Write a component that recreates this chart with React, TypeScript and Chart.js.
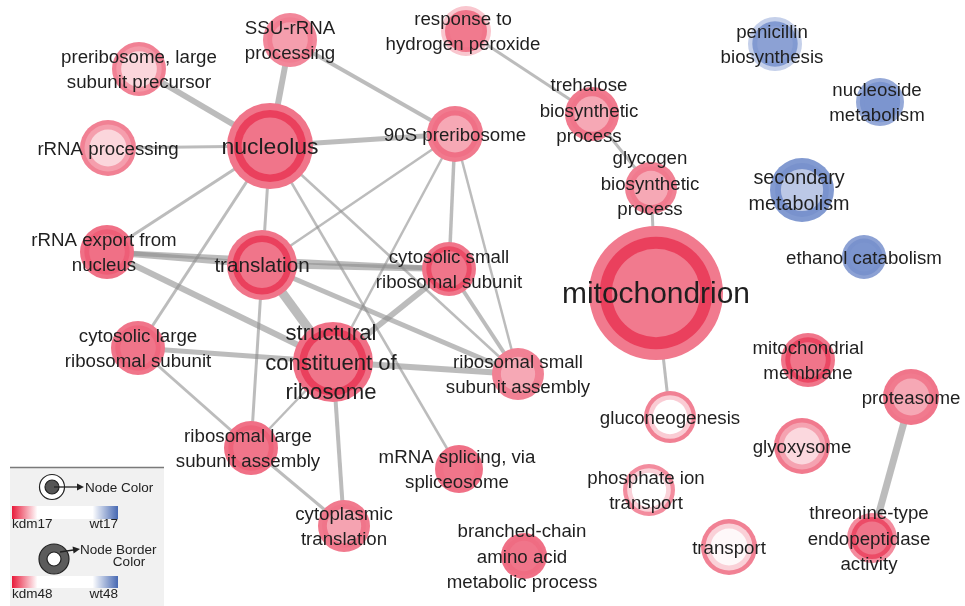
import React, { useEffect, useRef } from "react";
import { Chart, registerables } from "chart.js";

Chart.register(...registerables);

// ---- Nodes (enrichment map) ----
const nodeLabels = [
  "SSU-rRNA\nprocessing",
  "preribosome, large\nsubunit precursor",
  "rRNA processing",
  "nucleolus",
  "rRNA export from\nnucleus",
  "translation",
  "90S preribosome",
  "response to\nhydrogen peroxide",
  "trehalose\nbiosynthetic\nprocess",
  "glycogen\nbiosynthetic\nprocess",
  "mitochondrion",
  "cytosolic small\nribosomal subunit",
  "cytosolic large\nribosomal subunit",
  "structural\nconstituent of\nribosome",
  "ribosomal small\nsubunit assembly",
  "ribosomal large\nsubunit assembly",
  "mRNA splicing, via\nspliceosome",
  "cytoplasmic\ntranslation",
  "branched-chain\namino acid\nmetabolic process",
  "gluconeogenesis",
  "phosphate ion\ntransport",
  "transport",
  "mitochondrial\nmembrane",
  "glyoxysome",
  "proteasome",
  "threonine-type\nendopeptidase\nactivity",
  "penicillin\nbiosynthesis",
  "nucleoside\nmetabolism",
  "secondary\nmetabolism",
  "ethanol catabolism",
];

// layout coordinates of each node
const nodeX = [290, 139, 108, 270, 107, 262, 455, 466, 592, 651, 656, 449, 138, 333, 518, 251, 459, 344, 524, 670, 649, 729, 808, 802, 911, 872, 775, 880, 802, 864];
const nodeY = [40, 69, 148, 146, 252, 265, 134, 31, 114, 188, 293, 269, 348, 362, 374, 448, 469, 526, 556, 417, 490, 547, 360, 446, 397, 538, 44, 102, 190, 257];
// node size (gene-set size)
const nodeSize = [27, 27, 28, 43, 27, 35, 28, 25, 27, 26, 67, 27, 27, 40, 26, 27, 24, 26, 23, 26, 26, 28, 27, 28, 28, 25, 27, 24, 32, 22];

// enrichment scores: + = kdm, - = wt
const haloScore = [0.52, 0.55, 0.55, 0.6, 0.62, 0.6, 0.58, 0.25, 0.58, 0.55, 0.58, 0.6, 0.6, 0.62, 0.55, 0.62, 0.62, 0.58, 0.62, 0.55, 0.5, 0.55, 0.6, 0.58, 0.6, 0.5, -0.3, -0.55, -0.65, -0.6];
const borderScore48 = [0.56, 0.45, 0.42, 0.83, 0.7, 0.83, 0.62, 0.6, 0.6, 0.58, 0.83, 0.78, 0.66, 0.83, 0.55, 0.68, 0.62, 0.6, 0.64, 0.22, 0.2, 0.2, 0.8, 0.4, 0.58, 0.78, -0.65, -0.68, -0.7, -0.7];
const fillScore17 = [0.42, 0.18, 0.18, 0.6, 0.62, 0.6, 0.38, 0.58, 0.38, 0.38, 0.58, 0.6, 0.6, 0.6, 0.38, 0.6, 0.6, 0.4, 0.6, 0, 0, 0.03, 0.6, 0.17, 0.38, 0.6, -0.6, -0.68, -0.35, -0.68];

// ---- Edges ----
const edgeSource = [0, 0, 1, 2, 3, 3, 3, 3, 3, 3, 6, 6, 6, 6, 4, 4, 4, 5, 5, 5, 11, 11, 13, 12, 12, 15, 15, 13, 7, 8, 9, 10, 24];
const edgeTarget = [3, 6, 3, 3, 6, 4, 12, 15, 14, 16, 5, 13, 11, 14, 5, 11, 13, 11, 14, 13, 13, 14, 14, 13, 15, 17, 13, 17, 8, 9, 10, 19, 25];
const edgeOverlap = [0.6, 0.4, 0.6, 0.3, 0.5, 0.3, 0.3, 0.3, 0.25, 0.25, 0.25, 0.25, 0.35, 0.25, 0.6, 0.5, 0.6, 0.6, 0.5, 0.9, 0.6, 0.4, 0.6, 0.5, 0.3, 0.3, 0.25, 0.4, 0.3, 0.3, 0.3, 0.3, 0.7];

// ---- Legend ----
const legendNodeColor = ["kdm17", "wt17"];
const legendBorderColor = ["kdm48", "wt48"];

// small label placement nudges (pixels) for a few nodes, as in the reference layout
const labelNudge: Record<number, [number, number]> = {
  4: [-3, 0],
  7: [-3, 0],
  8: [-3, -4],
  9: [-1, -5],
  13: [-2, 0],
  15: [-3, 0],
  16: [-2, 0],
  18: [-2, 0],
  20: [-3, 0],
  25: [-3, 0],
  26: [-3, 0],
  27: [-3, 0],
  28: [-3, 0],
};

const RED = [230, 25, 60];
const BLUE = [63, 99, 184];
function scoreColor(s: number): string {
  const c = s >= 0 ? RED : BLUE;
  const t = Math.min(1, Math.abs(s));
  const v = c.map((k) => Math.round(255 + (k - 255) * t));
  return `rgb(${v[0]},${v[1]},${v[2]})`;
}

const FONT = '"Liberation Sans", Arial, Helvetica, sans-serif';

const labelPlugin = {
  id: "nodeLabels",
  afterDatasetsDraw(chart: any) {
    const ctx = chart.ctx;
    const xs = chart.scales.x;
    const ys = chart.scales.y;
    ctx.save();
    ctx.fillStyle = "#1f1f1f";
    ctx.textAlign = "center";
    ctx.textBaseline = "middle";
    nodeLabels.forEach((lab, i) => {
      const R = nodeSize[i];
      const fs = Math.max(18.7, 10.5 + 0.29 * R);
      ctx.font = `${fs}px ${FONT}`;
      const lines = lab.split("\n");
      const lh = fs * 1.35;
      const nudge = labelNudge[i] || [0, 0];
      const px = xs.getPixelForValue(nodeX[i]) + nudge[0];
      const py = ys.getPixelForValue(nodeY[i]) + nudge[1] + 1.5;
      lines.forEach((ln, k) => {
        ctx.fillText(ln, px, py + (k - (lines.length - 1) / 2) * lh);
      });
    });
    ctx.restore();
  },
};

function drawArrow(ctx: CanvasRenderingContext2D, x1: number, y1: number, x2: number, y2: number) {
  const a = Math.atan2(y2 - y1, x2 - x1);
  ctx.beginPath();
  ctx.moveTo(x1, y1);
  ctx.lineTo(x2 - 5 * Math.cos(a), y2 - 5 * Math.sin(a));
  ctx.stroke();
  ctx.beginPath();
  ctx.moveTo(x2, y2);
  ctx.lineTo(x2 - 7 * Math.cos(a) + 3.5 * Math.sin(a), y2 - 7 * Math.sin(a) - 3.5 * Math.cos(a));
  ctx.lineTo(x2 - 7 * Math.cos(a) - 3.5 * Math.sin(a), y2 - 7 * Math.sin(a) + 3.5 * Math.cos(a));
  ctx.closePath();
  ctx.fill();
}

function gradientBar(ctx: CanvasRenderingContext2D, x: number, y: number, w: number, h: number) {
  const g = ctx.createLinearGradient(x, 0, x + w, 0);
  g.addColorStop(0, "rgb(232,26,58)");
  g.addColorStop(0.24, "rgb(255,255,255)");
  g.addColorStop(0.76, "rgb(255,255,255)");
  g.addColorStop(1, "rgb(70,104,178)");
  ctx.fillStyle = g;
  ctx.fillRect(x, y, w, h);
}

const legendPlugin = {
  id: "mapLegend",
  afterDraw(chart: any) {
    const ctx: CanvasRenderingContext2D = chart.ctx;
    ctx.save();
    ctx.fillStyle = "#f1f1f1";
    ctx.fillRect(10, 467, 154, 139);
    ctx.strokeStyle = "#7a7a7a";
    ctx.lineWidth = 1.3;
    ctx.beginPath();
    ctx.moveTo(10, 467.5);
    ctx.lineTo(164, 467.5);
    ctx.stroke();

    // Node color icon
    ctx.strokeStyle = "#222";
    ctx.lineWidth = 1.2;
    ctx.fillStyle = "#fff";
    ctx.beginPath();
    ctx.arc(52, 487, 12.5, 0, Math.PI * 2);
    ctx.fill();
    ctx.stroke();
    ctx.fillStyle = "#555";
    ctx.beginPath();
    ctx.arc(52, 487, 7, 0, Math.PI * 2);
    ctx.fill();
    ctx.stroke();
    ctx.fillStyle = "#222";
    ctx.lineWidth = 1.3;
    drawArrow(ctx, 54, 487, 84, 487);

    ctx.fillStyle = "#222";
    ctx.font = `13.5px ${FONT}`;
    ctx.textBaseline = "middle";
    ctx.textAlign = "left";
    ctx.fillText("Node Color", 85, 488);

    gradientBar(ctx, 12, 506, 106, 13);
    ctx.fillStyle = "#222";
    ctx.textAlign = "left";
    ctx.fillText(legendNodeColor[0], 12, 524);
    ctx.textAlign = "right";
    ctx.fillText(legendNodeColor[1], 118, 524);

    // Node border icon
    ctx.strokeStyle = "#222";
    ctx.lineWidth = 1.2;
    ctx.fillStyle = "#5c5c5c";
    ctx.beginPath();
    ctx.arc(54, 559, 15, 0, Math.PI * 2);
    ctx.fill();
    ctx.stroke();
    ctx.fillStyle = "#fff";
    ctx.beginPath();
    ctx.arc(54, 559, 7, 0, Math.PI * 2);
    ctx.fill();
    ctx.stroke();
    ctx.fillStyle = "#222";
    ctx.lineWidth = 1.3;
    drawArrow(ctx, 60, 552, 80, 549);

    ctx.fillStyle = "#222";
    ctx.textAlign = "left";
    ctx.fillText("Node Border", 80, 550);
    ctx.textAlign = "center";
    ctx.fillText("Color", 129, 562);

    gradientBar(ctx, 12, 576, 106, 12);
    ctx.fillStyle = "#222";
    ctx.textAlign = "left";
    ctx.fillText(legendBorderColor[0], 12, 594);
    ctx.textAlign = "right";
    ctx.fillText(legendBorderColor[1], 118, 594);
    ctx.restore();
  },
};

export default function App() {
  const ref = useRef<HTMLCanvasElement | null>(null);

  useEffect(() => {
    if (!ref.current) return;
    const idx = nodeLabels.map((_, i) => i);

    const edgeSets: any[] = edgeSource.map((s, k) => ({
      type: "line",
      data: [
        { x: nodeX[s], y: nodeY[s] },
        { x: nodeX[edgeTarget[k]], y: nodeY[edgeTarget[k]] },
      ],
      borderColor: "rgba(140,140,140,0.58)",
      borderWidth: edgeOverlap[k] * 10,
      borderCapStyle: "butt",
      pointRadius: 0,
      fill: false,
      showLine: true,
      order: 10,
      clip: false,
    }));

    const bubble = (factor: number, scores: number[], order: number) => ({
      type: "bubble",
      data: idx.map((i) => ({ x: nodeX[i], y: nodeY[i], r: nodeSize[i] * factor })),
      backgroundColor: idx.map((i) => scoreColor(scores[i])),
      borderWidth: 0,
      hoverRadius: 0,
      order,
      clip: false,
    });

    const chart = new Chart(ref.current, {
      type: "scatter",
      data: {
        datasets: [
          ...edgeSets,
          bubble(1, haloScore, 3),
          bubble(0.84, borderScore48, 2),
          bubble(0.66, fillScore17, 1),
        ],
      },
      options: {
        responsive: false,
        animation: false,
        events: [],
        layout: { padding: 0, autoPadding: false },
        scales: {
          x: { type: "linear", min: 0, max: 965, display: false },
          y: { type: "linear", min: 0, max: 606, reverse: true, display: false },
        },
        plugins: {
          legend: { display: false },
          tooltip: { enabled: false },
        },
      },
      plugins: [labelPlugin, legendPlugin],
    } as any);

    return () => chart.destroy();
  }, []);

  return (
    <div style={{ position: "fixed", left: 0, top: 0, width: 965, height: 606, background: "#fff" }}>
      <canvas ref={ref} width={965} height={606} style={{ display: "block" }} />
    </div>
  );
}
